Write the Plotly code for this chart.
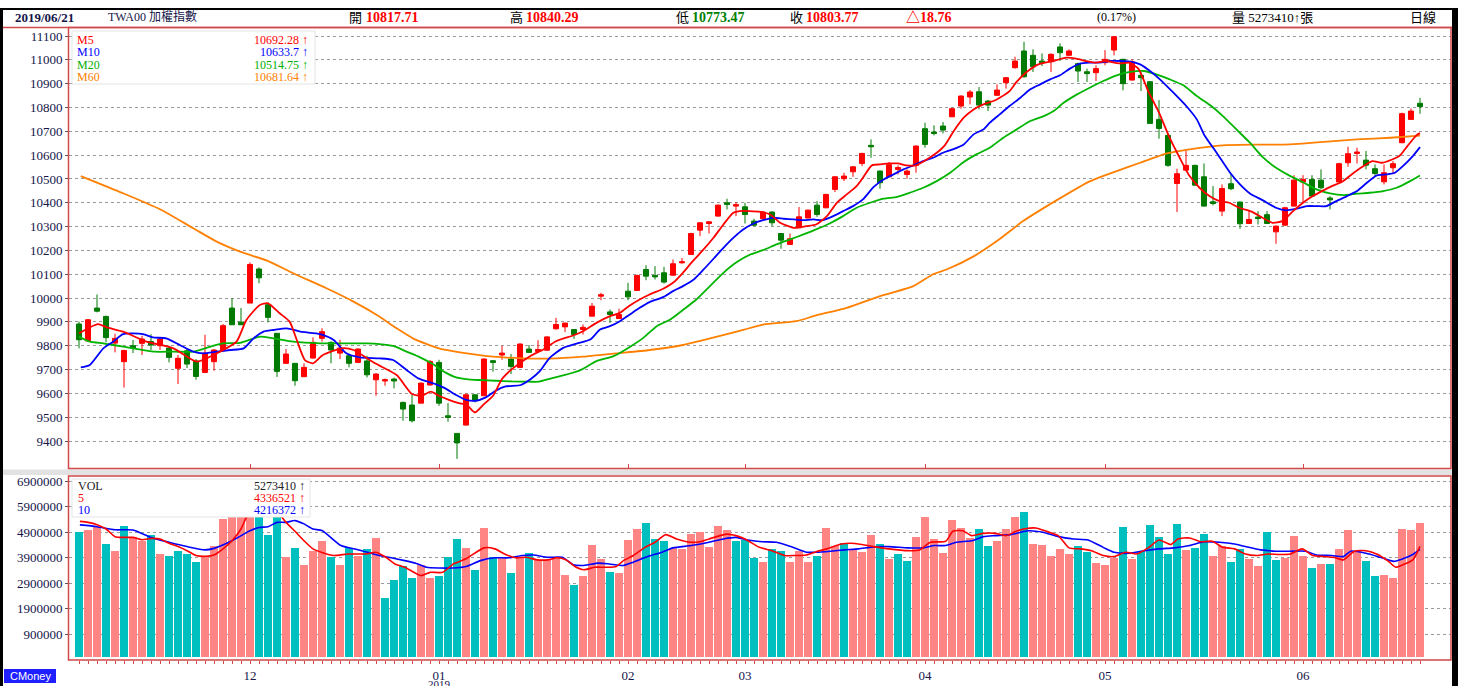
import plotly.graph_objects as go

# ---------------- data ----------------
opens = [9891, 9820, 9958, 9923, 9811, 9733, 9800, 9810, 9818, 9800,
         9790, 9705, 9779, 9736, 9688, 9733, 9779, 9958, 9899, 9979,
         10122, 9972, 9852, 9726, 9726, 9670, 9748, 9831, 9814, 9769,
         9758, 9730, 9736, 9657, 9652, 9660, 9562, 9551, 9559, 9635,
         9730, 9506, 9432, 9467, 9594, 9590, 9737, 9761, 9744, 9709,
         9786, 9776, 9781, 9871, 9879, 9868, 9868, 9924, 10008, 9942,
         9914, 10029, 10032, 10120, 10095, 10106, 10096, 10148, 10183, 10285,
         10313, 10344, 10400, 10386, 10383, 10323, 10333, 10361, 10271, 10225,
         10295, 10336, 10390, 10379, 10456, 10501, 10530, 10565, 10641, 10533,
         10509, 10540, 10519, 10557, 10711, 10697, 10722, 10761, 10806, 10844,
         10866, 10827, 10851, 10904, 10967, 11037, 11019, 10995, 10992, 11054,
         11019, 10984, 10950, 10946, 10988, 11041, 11002, 10915, 10935, 10908,
         10750, 10683, 10481, 10537, 10557, 10509, 10404, 10365, 10480, 10403,
         10313, 10340, 10350, 10278, 10306, 10386, 10487, 10498, 10495, 10420,
         10487, 10568, 10607, 10579, 10543, 10488, 10547, 10652, 10750, 10817.71]
highs = [9901, 9912, 10015, 9926, 9850, 9783, 9824, 9842, 9848, 9835,
         9800, 9761, 9789, 9744, 9846, 9786, 9891, 10000, 9958, 10150,
         10129, 9982, 9852, 9786, 9726, 9726, 9835, 9873, 9818, 9825,
         9760, 9789, 9758, 9685, 9662, 9666, 9565, 9593, 9645, 9740,
         9741, 9559, 9432, 9600, 9597, 9747, 9740, 9800, 9765, 9810,
         9803, 9823, 9840, 9917, 9897, 9870, 9889, 9980, 10022, 9952,
         9955, 10064, 10098, 10138, 10134, 10131, 10162, 10168, 10274, 10318,
         10322, 10393, 10417, 10403, 10400, 10333, 10364, 10365, 10273, 10271,
         10382, 10372, 10407, 10438, 10512, 10526, 10554, 10610, 10666, 10536,
         10571, 10557, 10540, 10641, 10736, 10725, 10739, 10799, 10851, 10873,
         10886, 10832, 10897, 10927, 11013, 11076, 11044, 11027, 11027, 11069,
         11044, 10988, 10963, 10977, 11041, 11100, 11005, 11002, 10949, 10911,
         10831, 10691, 10543, 10617, 10560, 10565, 10470, 10477, 10519, 10405,
         10369, 10365, 10365, 10304, 10383, 10516, 10516, 10516, 10540, 10428,
         10568, 10635, 10631, 10617, 10561, 10561, 10575, 10778, 10796, 10840.29]
lows = [9789, 9817, 9940, 9814, 9772, 9624, 9769, 9761, 9782, 9782,
        9730, 9639, 9706, 9657, 9685, 9695, 9775, 9887, 9887, 9979,
        10062, 9898, 9669, 9724, 9632, 9668, 9747, 9817, 9726, 9744,
        9709, 9727, 9667, 9590, 9632, 9621, 9485, 9478, 9559, 9633,
        9548, 9481, 9325, 9464, 9562, 9588, 9691, 9741, 9681, 9706,
        9770, 9770, 9779, 9868, 9857, 9829, 9847, 9922, 9991, 9896,
        9912, 9991, 10030, 10075, 10078, 10061, 10094, 10144, 10182, 10260,
        10271, 10342, 10372, 10344, 10313, 10302, 10330, 10302, 10207, 10223,
        10294, 10334, 10341, 10377, 10445, 10491, 10509, 10554, 10589, 10459,
        10506, 10519, 10501, 10526, 10631, 10683, 10691, 10759, 10795, 10813,
        10792, 10785, 10849, 10879, 10963, 10925, 10949, 10974, 10949, 10995,
        11016, 10907, 10907, 10911, 10977, 11019, 10872, 10914, 10869, 10733,
        10669, 10551, 10361, 10535, 10473, 10384, 10389, 10344, 10453, 10291,
        10311, 10309, 10311, 10228, 10302, 10384, 10400, 10426, 10456, 10372,
        10485, 10551, 10565, 10540, 10512, 10477, 10523, 10650, 10748, 10773.47]
closes = [9825, 9909, 9945, 9834, 9831, 9780, 9790, 9828, 9803, 9828,
          9751, 9747, 9723, 9671, 9769, 9782, 9884, 9888, 9888, 10141,
          10085, 9919, 9692, 9765, 9653, 9709, 9814, 9859, 9782, 9790,
          9726, 9786, 9678, 9681, 9657, 9652, 9534, 9485, 9643, 9734,
          9559, 9499, 9392, 9594, 9569, 9744, 9730, 9769, 9713, 9807,
          9772, 9784, 9837, 9889, 9895, 9847, 9877, 9966, 10014, 9931,
          9931, 10005, 10095, 10092, 10089, 10067, 10144, 10152, 10271, 10316,
          10320, 10390, 10393, 10392, 10351, 10306, 10361, 10316, 10243, 10249,
          10341, 10369, 10351, 10435, 10509, 10512, 10551, 10607, 10635, 10484,
          10560, 10548, 10533, 10638, 10645, 10691, 10705, 10795, 10848, 10865,
          10810, 10810, 10873, 10925, 10995, 10929, 10971, 10988, 11023, 11030,
          11037, 10953, 10942, 10963, 11002, 11097, 10900, 10992, 10925, 10733,
          10712, 10557, 10522, 10557, 10474, 10386, 10397, 10460, 10459, 10312,
          10330, 10334, 10313, 10302, 10379, 10495, 10498, 10428, 10463, 10412,
          10564, 10606, 10613, 10558, 10523, 10526, 10564, 10774, 10785, 10803.77]

# volume in millions of shares
volumes = [4.91, 4.97, 5.11, 4.44, 4.14, 5.14, 4.69, 4.55, 4.78, 4.04,
           3.96, 4.17, 4.04, 3.71, 3.96, 4.35, 5.42, 5.90, 6.20, 6.60,
           5.80, 4.77, 5.70, 3.93, 4.26, 3.62, 4.15, 4.54, 3.91, 3.62,
           4.28, 3.95, 4.24, 4.67, 2.32, 3.02, 3.55, 3.08, 3.62, 3.08,
           3.17, 3.91, 4.63, 4.28, 3.42, 5.06, 3.94, 3.89, 3.29, 3.91,
           4.08, 3.82, 3.82, 3.91, 3.23, 2.84, 3.19, 4.39, 3.83, 3.35,
           3.29, 4.60, 5.03, 5.25, 4.63, 4.54, 4.28, 4.22, 4.82, 4.89,
           4.33, 5.15, 4.99, 4.54, 4.60, 3.87, 3.72, 4.24, 4.17, 3.72,
           4.15, 3.72, 3.98, 5.06, 4.35, 4.46, 4.24, 4.11, 4.77, 4.43,
           3.83, 4.02, 3.78, 4.72, 5.51, 4.63, 4.08, 5.37, 5.06, 4.65,
           5.02, 4.35, 4.56, 5.02, 5.48, 5.70, 4.45, 4.41, 3.98, 4.25,
           4.04, 4.37, 4.11, 3.68, 3.59, 3.87, 5.11, 3.83, 4.17, 5.18,
           4.72, 4.04, 5.22, 4.20, 4.26, 4.81, 3.98, 4.37, 3.74, 4.24,
           3.86, 3.56, 4.92, 3.81, 3.90, 4.75, 3.96, 3.48, 3.65, 3.65,
           4.24, 4.99, 4.17, 3.78, 3.19, 3.23, 3.08, 5.02, 4.99, 5.27341]
vol_up = [0, 1, 1, 0, 1, 0, 1, 1, 0, 1, 0, 0, 0, 0, 1, 1, 1, 1, 1, 1,
          0, 0, 0, 1, 0, 1, 1, 1, 0, 1, 0, 1, 0, 1, 0, 0, 0, 0, 1, 1,
          0, 0, 0, 1, 0, 1, 0, 1, 0, 1, 0, 1, 1, 1, 1, 0, 1, 1, 1, 0,
          1, 1, 1, 0, 0, 0, 1, 1, 1, 1, 1, 1, 1, 0, 0, 0, 1, 0, 0, 1,
          1, 1, 0, 1, 1, 0, 1, 1, 1, 0, 1, 0, 0, 1, 1, 1, 1, 1, 1, 1,
          0, 0, 1, 1, 1, 0, 1, 1, 1, 1, 1, 0, 0, 1, 1, 1, 0, 1, 0, 0,
          0, 0, 0, 1, 0, 0, 1, 1, 0, 0, 1, 1, 0, 0, 1, 1, 1, 0, 1, 0,
          1, 1, 1, 0, 0, 1, 1, 1, 1, 1]

# moving-average lines: (bar position, value)
ma5_pts = [(0, 9852), (2.1, 9891), (3.1, 9877), (4.9, 9859), (7.5, 9817), (10.5, 9789), (13.1, 9733),
           (15.3, 9768), (17.5, 9817), (18.6, 9908), (20.1, 9971), (21, 9978), (22.3, 9936), (23.4, 9901),
           (24.2, 9824), (25.1, 9740), (26, 9726), (27.1, 9761), (29.2, 9789), (30.5, 9782), (32.9, 9726),
           (35.3, 9677), (37, 9597), (38.1, 9590), (39.1, 9607), (40, 9590), (41.1, 9573), (42.2, 9559),
           (43.1, 9551), (44, 9520), (45, 9555), (46, 9590), (47, 9660), (48.1, 9702), (49.1, 9730),
           (50.2, 9758), (51.6, 9784), (53, 9819), (54.9, 9843), (56, 9861), (57.5, 9896), (59, 9924),
           (60.1, 9938), (61.2, 9969), (62.3, 9994), (63.4, 10015), (64.9, 10039), (66, 10064), (67.1, 10106),
           (68.2, 10155), (69.4, 10204), (70.5, 10253), (71.6, 10309), (72.7, 10358), (73.4, 10365),
           (74.5, 10365), (75.7, 10362), (76.8, 10351), (77.9, 10316), (79.4, 10295), (80.8, 10302),
           (81.9, 10309), (83.1, 10344), (84.2, 10400), (85.3, 10435), (86.4, 10470), (87.1, 10505),
           (88.1, 10557), (89, 10561), (90.1, 10565), (91, 10565), (91.9, 10557), (93, 10557), (94.2, 10582),
           (95.3, 10610), (96.2, 10641), (97.2, 10701), (98.3, 10757), (99.4, 10792), (100.5, 10813),
           (101.6, 10827), (102.3, 10841), (103.4, 10869), (104.1, 10904), (105.2, 10946), (106.6, 10981),
           (108.2, 10995), (109.7, 11009), (110.8, 11005), (111.9, 10995), (113, 10988), (114.1, 10995),
           (115.6, 10985), (116.7, 10988), (117.7, 10963), (118.8, 10869), (120, 10778), (121.1, 10680),
           (122.3, 10589), (123.4, 10512), (124.5, 10463), (125.6, 10428), (126.7, 10407), (127.8, 10400),
           (128.9, 10379), (130.4, 10361), (131.5, 10337), (132.6, 10316), (133.7, 10323), (134.9, 10365),
           (136, 10400), (137.1, 10428), (138.1, 10449), (139.2, 10470), (140.3, 10487), (141.4, 10519),
           (142.6, 10551), (143.7, 10575), (144.8, 10568), (146.7, 10596), (147.6, 10638), (148.6, 10683),
           (149, 10692.28)]
ma10_pts = [(0.2, 9709), (1.2, 9719), (2.7, 9789), (3.8, 9817), (4.9, 9849), (7.1, 9849), (8.2, 9835),
            (9.7, 9831), (11.2, 9803), (12.7, 9775), (13.8, 9768), (15.3, 9775), (16.8, 9782), (18.3, 9789),
            (19.4, 9831), (20.5, 9859), (21.6, 9866), (23.1, 9873), (24.6, 9859), (26.8, 9849), (28.3, 9824),
            (29.7, 9768), (31.2, 9751), (33.4, 9747), (34.9, 9740), (36.4, 9698), (37.7, 9663), (39.6, 9639),
            (40.7, 9621), (41.9, 9593), (43, 9573), (44.1, 9569), (45.2, 9583), (46.3, 9611), (47.4, 9629),
            (49.1, 9635), (50.2, 9660), (51.2, 9693), (52.3, 9749), (53.8, 9791), (55.3, 9809), (56.8, 9826),
            (57.9, 9868), (59, 9882), (60.1, 9903), (61.2, 9931), (62.3, 9959), (63.4, 9983), (64.9, 10004),
            (66, 10029), (67.1, 10050), (68.3, 10078), (69.4, 10120), (70.5, 10165), (71.6, 10211),
            (72.7, 10253), (73.8, 10288), (74.9, 10312), (76, 10327), (77.1, 10337), (78.3, 10333),
            (79.4, 10330), (80.5, 10327), (81.6, 10330), (82.6, 10327), (83.8, 10344), (84.9, 10365),
            (86, 10386), (87.1, 10414), (88.3, 10467), (89.4, 10498), (90.5, 10519), (91.6, 10540),
            (92.7, 10557), (93.8, 10575), (94.9, 10589), (96, 10610), (97.1, 10624), (98.3, 10645),
            (99.4, 10687), (100.5, 10708), (101.2, 10736), (102.3, 10771), (103.4, 10806), (104.6, 10841),
            (105.7, 10876), (106.8, 10897), (107.9, 10918), (109, 10935), (110.1, 10963), (111.2, 10984),
            (112.3, 10988), (113.4, 10988), (114.6, 10995), (115.7, 10995), (116.8, 10992), (117.9, 10981),
            (119, 10953), (120.1, 10918), (121.6, 10862), (123.1, 10803), (124.2, 10750), (125.1, 10680),
            (126.4, 10610), (127.9, 10526), (129, 10477), (130.1, 10439), (131.5, 10411), (133, 10379),
            (134.1, 10368), (135.3, 10375), (136.4, 10386), (137.5, 10386), (138.6, 10386), (139.7, 10407),
            (140.9, 10428), (142, 10449), (143.1, 10484), (144.2, 10515), (145.3, 10519), (146.2, 10526),
            (147.1, 10554), (148.2, 10596), (149, 10633.7)]
ma20_pts = [(0, 9838), (1.2, 9817), (2.7, 9810), (3.8, 9803), (6, 9789), (8.3, 9775), (10.5, 9775),
            (12.7, 9775), (14.6, 9796), (16, 9810), (17.9, 9812), (20.1, 9838), (21.6, 9831), (23.8, 9817),
            (26.8, 9810), (29.7, 9810), (32, 9810), (33.4, 9807), (34.9, 9799), (36.4, 9775), (37.9, 9751),
            (39.3, 9723), (40.7, 9688), (41.9, 9667), (43, 9660), (44.4, 9656), (46.3, 9653), (48.1, 9650),
            (50, 9649), (51.1, 9649), (52.3, 9661), (53.8, 9675), (55.7, 9697), (57.5, 9735), (59.4, 9756),
            (61.2, 9795), (62.7, 9833), (64.2, 9882), (65.7, 9910), (67.1, 9950), (68.6, 9994), (70.1, 10050),
            (71.6, 10106), (73.1, 10151), (74.6, 10183), (76, 10201), (77.5, 10225), (79, 10246),
            (80.5, 10267), (81.9, 10288), (83.4, 10313), (84.9, 10344), (86.4, 10379), (87.9, 10400),
            (89.4, 10417), (90.9, 10425), (92.3, 10442), (93.8, 10463), (95.3, 10491), (96.8, 10526),
            (98.3, 10571), (99.7, 10603), (101.2, 10631), (102.7, 10673), (104.2, 10708), (105.7, 10743),
            (107.2, 10764), (108.3, 10785), (109.4, 10820), (110.9, 10855), (112.3, 10883), (113.8, 10911),
            (115.3, 10935), (116.8, 10949), (118.3, 10953), (119.7, 10939), (121.2, 10918), (122.7, 10893),
            (124.2, 10848), (125.7, 10809), (127.1, 10764), (128.6, 10708), (130.1, 10652), (131.5, 10593),
            (133, 10547), (134.6, 10512), (136.1, 10484), (137.5, 10456), (139, 10439), (140.5, 10432),
            (142, 10438), (143.4, 10442), (144.9, 10449), (146.4, 10463), (147.9, 10491), (149, 10514.75)]
ma60_pts = [(0.2, 10512), (4.9, 10440), (9, 10373), (12.7, 10293), (15.3, 10237), (17.9, 10195),
            (20.9, 10157), (23.8, 10104), (27.5, 10041), (30.5, 9985), (33.1, 9929), (35.3, 9873),
            (37.1, 9831), (40, 9789), (43.1, 9768), (46, 9754), (49.4, 9747), (52.3, 9746), (56, 9754),
            (59.7, 9768), (63.4, 9782), (67.1, 9803), (70.9, 9838), (73.8, 9866), (76, 9889), (79.7, 9903),
            (81.9, 9927), (85.3, 9959), (89, 10008), (92.7, 10050), (94.9, 10100), (96.4, 10120),
            (99.4, 10175), (102.3, 10248), (104.9, 10323), (108.6, 10410), (112.3, 10490), (115.3, 10533),
            (117.9, 10568), (120.9, 10607), (123.4, 10624), (127.1, 10641), (130.9, 10644), (134.6, 10645),
            (138.3, 10656), (142, 10666), (145.7, 10673), (149, 10681.64)]
vma5_pts = [(0.1, 5.32), (1, 5.28), (2, 5.19), (3, 5.02), (4, 4.72), (4.9, 4.69), (6, 4.69), (7, 4.60),
            (8, 4.65), (9, 4.63), (10, 4.46), (11, 4.33), (12, 4.17), (13, 3.98), (14.1, 3.95), (15, 4.00),
            (16, 4.24), (17, 4.56), (18, 5.02), (18.6, 5.48), (19.5, 5.90), (20.5, 6.00), (21.5, 5.90),
            (22.3, 5.60), (23, 5.28), (24, 4.93), (25, 4.56), (26, 4.24), (27, 4.10), (28.3, 3.98),
            (29.9, 4.04), (31.9, 4.04), (33, 4.11), (34.1, 3.91), (35.1, 3.65), (36.2, 3.52), (38, 3.19),
            (39, 3.32), (40.4, 3.32), (41.6, 3.65), (43, 3.85), (45, 4.28), (46.2, 4.24), (47.4, 4.02),
            (48.5, 3.89), (49.7, 3.91), (50.9, 3.81), (52.1, 3.81), (53.1, 3.89), (54.1, 3.81), (55.1, 3.55),
            (56.1, 3.42), (57.3, 3.52), (58.5, 3.52), (59.7, 3.55), (60.5, 3.78), (61.6, 3.98), (62.8, 4.28),
            (64, 4.50), (65.2, 4.80), (66.4, 4.63), (68, 4.50), (69, 4.52), (70, 4.63), (72, 4.82),
            (73, 4.76), (74, 4.63), (75.6, 4.30), (77, 4.17), (78.4, 3.98), (79.6, 3.98), (80.8, 4.00),
            (81.9, 4.13), (83.1, 4.24), (84.7, 4.43), (85.8, 4.46), (87, 4.41), (88.3, 4.33), (90, 4.24),
            (92.1, 4.17), (93.4, 4.20), (94.6, 4.50), (96.3, 4.54), (97.1, 4.93), (98.2, 4.95), (99.2, 4.76),
            (100.5, 4.85), (101.8, 4.85), (103, 4.76), (104.1, 4.93), (105, 5.02), (106.3, 5.06),
            (107.5, 4.93), (108.8, 4.76), (110, 4.28), (111.3, 4.24), (112.5, 4.17), (113.8, 3.98),
            (115, 3.94), (116.3, 4.11), (117.5, 4.04), (118.8, 4.28), (120, 4.59), (121.3, 4.41),
            (122.1, 4.63), (123.4, 4.67), (124.6, 4.52), (125.9, 4.54), (127.1, 4.30), (128.4, 4.24),
            (129.6, 4.04), (130.9, 3.98), (132.1, 4.04), (133.4, 4.02), (134.6, 4.04), (135.9, 4.24),
            (137.1, 3.98), (138.4, 3.94), (139.6, 3.89), (140.5, 3.81), (141.7, 4.15), (143, 4.17),
            (144.3, 4.02), (145.5, 3.75), (146.3, 3.52), (147.1, 3.62), (148.2, 3.81), (149, 4.336521)]
vma10_pts = [(0.1, 5.18), (2, 5.11), (4, 4.99), (6, 4.98), (8, 4.69), (10, 4.50), (12, 4.33), (14, 4.20),
             (15, 4.26), (17, 4.56), (19, 4.95), (20, 5.08), (21, 5.11), (22, 5.28), (23, 5.28), (24, 5.35),
             (25, 5.22), (26, 5.02), (27, 4.96), (29.1, 4.37), (31.1, 4.20), (33.1, 4.00), (34.7, 3.89),
             (36.2, 3.78), (37.4, 3.68), (38.6, 3.52), (40, 3.49), (41.6, 3.49), (43, 3.55), (44.6, 3.78),
             (46.2, 3.89), (47.8, 3.89), (49.3, 3.98), (50.5, 4.00), (52.1, 3.91), (53.7, 3.91), (54.9, 3.62),
             (56.1, 3.59), (57.7, 3.68), (58.9, 3.65), (60.5, 3.59), (61.6, 3.72), (63.2, 3.94), (64.8, 4.11),
             (66, 4.28), (68, 4.37), (70, 4.50), (71.6, 4.63), (73, 4.69), (74.3, 4.59), (75.9, 4.52),
             (77.5, 4.50), (79.1, 4.33), (80.8, 4.11), (81.9, 4.11), (83.5, 4.15), (85.1, 4.20), (86.6, 4.24),
             (88.3, 4.32), (90, 4.33), (92.1, 4.28), (93.8, 4.28), (95, 4.37), (96.3, 4.37), (97.5, 4.50),
             (99.2, 4.56), (100.5, 4.72), (101.8, 4.76), (103.5, 4.80), (105.5, 4.95), (107.1, 4.89),
             (108.8, 4.72), (110.5, 4.63), (112.1, 4.59), (113.8, 4.30), (115, 4.11), (116.7, 4.07),
             (118.4, 4.17), (120, 4.24), (121.7, 4.28), (123.4, 4.37), (125, 4.52), (126.7, 4.50),
             (128.4, 4.43), (129.6, 4.33), (131.3, 4.20), (133, 4.15), (134.6, 4.15), (136.3, 4.15),
             (137.5, 4.00), (139.2, 3.98), (140.5, 3.94), (141.3, 4.15), (143, 4.07), (144.6, 3.91),
             (146.1, 3.75), (147.1, 3.85), (148.2, 4.02), (149, 4.216372)]

month_idx = [19, 40, 61, 74, 94, 114, 136]
month_labels = ["12", "01", "02", "03", "04", "05", "06"]
year_label = ("2019", 40)
price_ticks = list(range(9400, 11101, 100))
price_tick_labels = [str(v) for v in price_ticks]
vol_ticks = [0.9, 1.9, 2.9, 3.9, 4.9, 5.9, 6.9]
vol_tick_labels = ["900000", "1900000", "2900000", "3900000", "4900000", "5900000", "6900000"]

header = {"date": "2019/06/21", "name": "TWA00 加權指數", "open": "10817.71", "high": "10840.29",
          "low": "10773.47", "close": "10803.77", "chg": "△18.76", "pct": "(0.17%)",
          "vol": "量 5273410↑張", "period": "日線"}
ma_legend = [("M5", "10692.28 ↑", "#ff0000"), ("M10", "10633.7 ↑", "#0000ff"),
             ("M20", "10514.75 ↑", "#00b000"), ("M60", "10681.64 ↑", "#ff8000")]
vol_legend = [("VOL", "5273410 ↑", "#202020"), ("5", "4336521 ↑", "#ff0000"), ("10", "4216372 ↑", "#0000ff")]

# ---------------- geometry helpers ----------------
W, H = 1458, 686
L, R, T, B = 69, 1451, 27, 660
def px(x):
    return (x - L) / (R - L)
def py(y):
    return (B - y) / (B - T)

idx = list(range(len(closes)))
bar_px = 9.0
x_lo = 0 - (79 - L) / bar_px
x_hi = (len(closes) - 1) + (R - 1420) / bar_px
p_scale = 0.23824
p_top = 11100 + (36 - T) / p_scale
p_bot = 11100 - (468.5 - 36) / p_scale
v_scale = 25.5
v_top = (657 - 476) / v_scale
v_bot = (657 - B) / v_scale

SERIF = "Liberation Serif, DejaVu Serif, serif"
CJK = "Liberation Serif, Noto Sans CJK TC, serif"
NAVY = "#15154a"
BORDER = "#d04848"

fig = go.Figure()
fig.add_trace(go.Candlestick(
    x=idx, open=opens, high=highs, low=lows, close=closes, xaxis="x", yaxis="y",
    increasing=dict(line=dict(color="#ff0000", width=1), fillcolor="#ff0000"),
    decreasing=dict(line=dict(color="#007a00", width=1), fillcolor="#007a00"),
    whiskerwidth=0, showlegend=False, hoverinfo="skip"))

for pts, col in [(ma60_pts, "#ff8000"), (ma20_pts, "#00b400"), (ma10_pts, "#0000ff"), (ma5_pts, "#ff0000")]:
    fig.add_trace(go.Scatter(x=[p[0] for p in pts], y=[p[1] for p in pts], mode="lines",
                             line=dict(color=col, width=1.8, shape="spline", smoothing=0.6),
                             xaxis="x", yaxis="y", showlegend=False, hoverinfo="skip"))

fig.add_trace(go.Bar(x=idx, y=volumes, xaxis="x2", yaxis="y2", width=0.78,
                     marker=dict(color=["#ff8585" if u else "#00bfbf" for u in vol_up],
                                 line=dict(width=0)),
                     showlegend=False, hoverinfo="skip"))
for pts, col in [(vma10_pts, "#0000ff"), (vma5_pts, "#ff0000")]:
    fig.add_trace(go.Scatter(x=[p[0] for p in pts], y=[p[1] for p in pts], mode="lines",
                             line=dict(color=col, width=1.6, shape="spline", smoothing=0.6),
                             xaxis="x2", yaxis="y2", showlegend=False, hoverinfo="skip"))

shapes = []
def rect(x0, y0, x1, y1, fill=None, line=None, lw=1, layer="above"):
    shapes.append(dict(type="rect", xref="paper", yref="paper", x0=px(x0), x1=px(x1),
                       y0=py(y1), y1=py(y0), fillcolor=fill or "rgba(0,0,0,0)",
                       line=dict(color=line or "rgba(0,0,0,0)", width=lw if line else 0), layer=layer))

rect(0, 8, W, 10, fill="#000000")
rect(0, 9, 3, H, fill="#000000")
rect(1452, 9, W, H, fill="#000000")
rect(3, 469.5, 1452, 475, fill="#e2e2e2")
shapes.append(dict(type="line", xref="paper", yref="paper", x0=px(3), x1=px(1452), y0=py(27.5), y1=py(27.5),
                   line=dict(color=BORDER, width=1.5), layer="above"))
rect(68.5, 27.5, 1451, 468.5, line=BORDER, lw=1.5)
rect(68.5, 476, 1451, 660, line=BORDER, lw=1.5)
rect(72, 31, 315, 84, fill="#ffffff", line="#e4e4e4")
rect(72, 479, 310, 517, fill="#ffffff", line="#e4e4e4")
rect(4, 669, 56, 683, fill="#1f1fff")

ann = []
def text(x, y, s, color="#000000", size=13, anchor="left", family=SERIF):
    ann.append(dict(x=px(x), y=py(y), xref="paper", yref="paper", text=s, showarrow=False,
                    xanchor=anchor, yanchor="middle", borderpad=0,
                    font=dict(family=family, size=size, color=color)))

hy = 17.5
text(14, hy, "<b>" + header["date"] + "</b>", NAVY, 13, family=CJK)
text(107, hy, header["name"], NAVY, 12, family=CJK)
text(348, hy, "開", "#000000", 13, family=CJK)
text(365, hy, "<b>" + header["open"] + "</b>", "#ff0000", 14)
text(509, hy, "高", "#000000", 13, family=CJK)
text(525, hy, "<b>" + header["high"] + "</b>", "#ff0000", 14)
text(675, hy, "低", "#000000", 13, family=CJK)
text(691, hy, "<b>" + header["low"] + "</b>", "#008000", 14)
text(789, hy, "收", "#000000", 13, family=CJK)
text(805, hy, "<b>" + header["close"] + "</b>", "#ff0000", 14)
text(905, hy, "<b>" + header["chg"] + "</b>", "#ff0000", 14, family=CJK)
text(1096, hy, header["pct"], "#000000", 12, family=CJK)
text(1231, hy, header["vol"], "#000000", 13, family=CJK)
text(1409, hy, header["period"], "#000000", 13, family=CJK)

for k, (lab, val, col) in enumerate(ma_legend):
    yy = 39.5 + k * 12.5
    text(76, yy, lab, col, 12)
    text(309, yy, val, col, 12, anchor="right")
for k, (lab, val, col) in enumerate(vol_legend):
    yy = 485.5 + k * 12.3
    text(77, yy, lab, col, 12)
    text(306, yy, val, col, 12, anchor="right")
text(30, 676, "CMoney", "#ffffff", 11, anchor="center", family="Liberation Sans, Arial, sans-serif")
text(79 + bar_px * year_label[1], 684, year_label[0], NAVY, 11, anchor="center")

tick_text = []
for i in idx:
    tick_text.append(month_labels[month_idx.index(i)] if i in month_idx else "")

fig.update_layout(
    width=W, height=H, margin=dict(l=L, r=W - R, t=T, b=H - B, autoexpand=False),
    paper_bgcolor="#ffffff", plot_bgcolor="#ffffff", showlegend=False,
    boxgap=0.2, bargap=0, shapes=shapes, annotations=ann,
    xaxis=dict(domain=[0, 1], range=[x_lo, x_hi], anchor="y", showticklabels=False, automargin=False,
               ticks="inside", ticklen=5, tickcolor=BORDER, tickvals=month_idx,
               showgrid=False, zeroline=False, showline=False, rangeslider=dict(visible=False)),
    yaxis=dict(domain=[py(468.5), 1], range=[p_bot, p_top], tickvals=price_ticks,
               ticktext=price_tick_labels, automargin=False,
               ticks="outside", ticklen=3, tickcolor="#555555",
               tickfont=dict(family=SERIF, size=13, color=NAVY),
               showgrid=True, gridcolor="#9a9a9a", griddash="dot", gridwidth=1, zeroline=False),
    xaxis2=dict(domain=[0, 1], range=[x_lo, x_hi], anchor="y2", tickvals=idx, ticktext=tick_text,
                automargin=False, ticks="outside", ticklen=3, tickcolor=BORDER, tickangle=0,
                tickfont=dict(family=SERIF, size=13, color=NAVY),
                showgrid=False, zeroline=False, showline=False),
    yaxis2=dict(domain=[0, py(476)], range=[v_bot, v_top], tickvals=vol_ticks, ticktext=vol_tick_labels,
                automargin=False, ticks="outside", ticklen=3, tickcolor="#555555",
                tickfont=dict(family=SERIF, size=13, color=NAVY),
                showgrid=True, gridcolor="#9a9a9a", griddash="dot", gridwidth=1, zeroline=False),
)

fig.write_html("out.html", config={"displayModeBar": False},
               post_script="document.body.style.margin='0';document.body.style.overflow='hidden';")
